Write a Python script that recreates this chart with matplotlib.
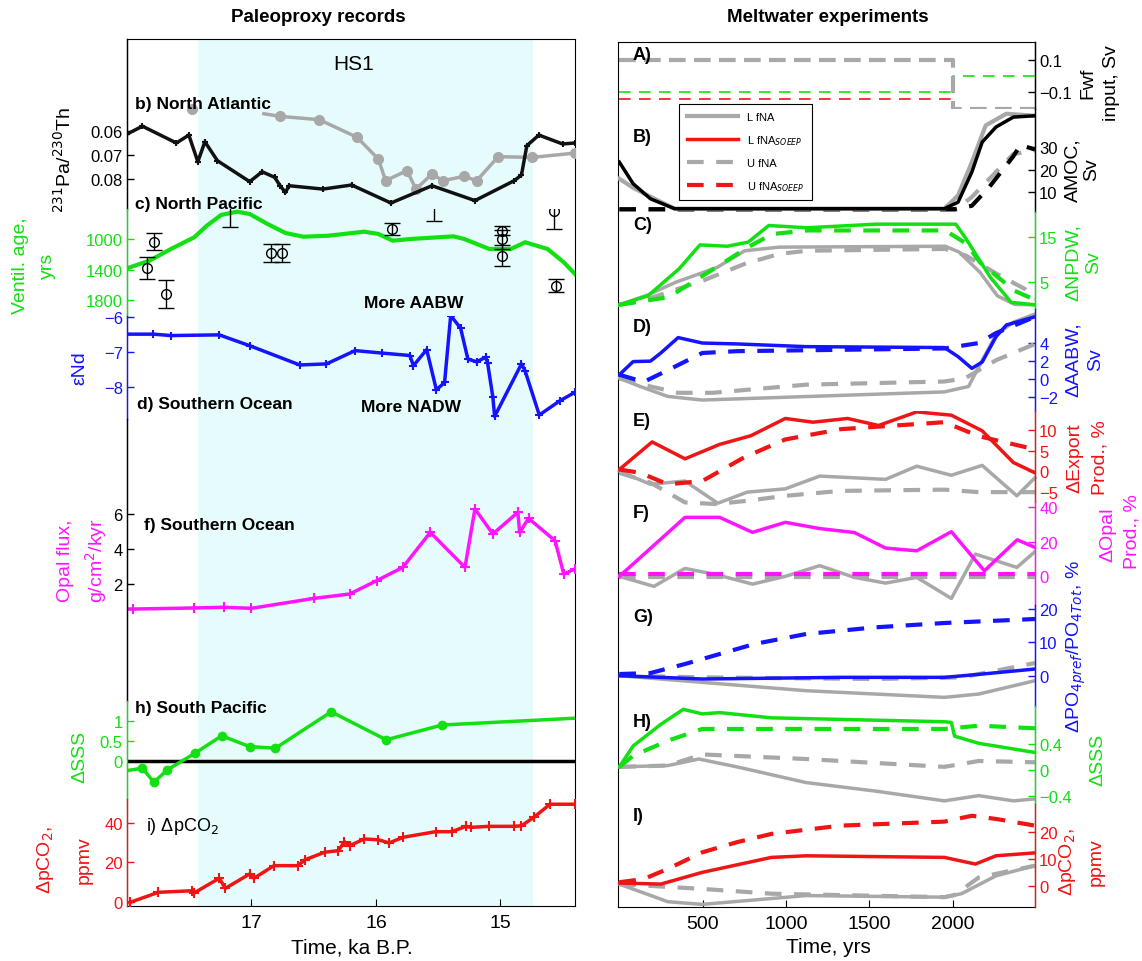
import matplotlib
matplotlib.use('Agg')
import matplotlib.pyplot as plt
from matplotlib.lines import Line2D

plt.rcParams['font.family'] = ['Liberation Sans', 'DejaVu Sans']

# ---------------- paleoproxy data (time in ka B.P.) ----------------
# b) North Atlantic 231Pa/230Th
t_pa_black = [18.0, 17.876, 17.603, 17.503, 17.431, 17.374, 17.273, 17.014, 16.914, 16.813, 16.770,
              16.727, 16.698, 16.425, 16.195, 15.879, 15.549, 15.204, 14.888, 14.830, 14.787, 14.69,
              14.50, 14.40]
pa_black = [0.0613, 0.058, 0.065, 0.0617, 0.0728, 0.0645, 0.0724, 0.0811, 0.077, 0.0793, 0.0828,
            0.0856, 0.0828, 0.0842, 0.0825, 0.090, 0.0828, 0.089, 0.0807, 0.0783, 0.0661, 0.0617,
            0.0654, 0.065]
# gap (nan) where the record is hidden behind the panel title
t_pa_gray = [17.474, float('nan'), 16.90, 16.770, 16.454, 16.152, 15.980, 15.922, 15.750, 15.678,
             15.549, 15.463, 15.290, 15.190, 15.017, 14.744, 14.40]
pa_gray = [0.0508, float('nan'), 0.0528, 0.0539, 0.0553, 0.0626, 0.0717, 0.0807, 0.0765, 0.0842,
           0.0779, 0.0807, 0.0789, 0.0807, 0.0707, 0.071, 0.0692]
pa_gray_marks = [0, 3, 4, 5, 6, 7, 8, 9, 10, 11, 12, 13, 14, 15, 16]

# c) North Pacific ventilation age
t_vent = [18.0, 17.819, 17.647, 17.460, 17.359, 17.244, 17.115, 17.014, 16.871, 16.727, 16.583,
          16.382, 16.095, 15.980, 15.865, 15.721, 15.376, 15.290, 15.089, 14.917, 14.80, 14.62,
          14.49, 14.40]
vent = [1384, 1284, 1131, 978, 826, 685, 642, 672, 803, 921, 970, 957, 904, 934, 1022, 1000, 965,
        1000, 1131, 1131, 1043, 1131, 1306, 1459]
t_vent_pts = [17.784, 17.842, 17.684, 17.172, 16.842, 16.756, 15.874, 15.534, 14.99, 14.99, 14.99,
              14.57, 14.55]
vent_pts = [1035, 1384, 1721, 470, 1184, 1184, 869, 400, 891, 1004, 1219, 629, 1612]
vent_err = [115, 147, 180, 377, 120, 120, 82, 360, 55, 125, 135, 240, 88]

# d) Southern Ocean eNd
t_nd = [18.0, 17.79, 17.647, 17.259, 17.014, 16.612, 16.397, 16.167, 15.951, 15.727, 15.698, 15.592,
        15.514, 15.448, 15.399, 15.319, 15.261, 15.190, 15.118, 15.103, 15.060, 15.046, 14.830,
        14.802, 14.687, 14.520, 14.40]
nd = [-6.49, -6.49, -6.53, -6.51, -6.82, -7.37, -7.34, -6.96, -7.03, -7.10, -7.39, -6.93, -8.08,
      -7.87, -5.96, -6.32, -7.20, -7.28, -7.15, -7.30, -8.29, -8.84, -7.34, -7.53, -8.80, -8.39, -8.15]

# f) Southern Ocean opal flux
t_opal = [18.0, 17.948, 17.460, 17.224, 17.0, 16.497, 16.210, 15.994, 15.784, 15.563, 15.284, 15.204,
          15.060, 14.859, 14.845, 14.773, 14.56, 14.49, 14.40]
opal = [0.57, 0.57, 0.63, 0.67, 0.61, 1.18, 1.43, 2.19, 2.95, 4.95, 2.95, 6.29, 4.86, 6.10, 4.95,
        5.75, 4.47, 2.57, 2.86]

# h) South Pacific dSSS
t_sss = [18.0, 17.876, 17.784, 17.675, 17.451, 17.239, 17.014, 16.807, 16.359, 15.917, 15.468, 14.40]
sss = [-0.24, -0.18, -0.53, -0.22, 0.20, 0.63, 0.36, 0.32, 1.23, 0.53, 0.90, 1.07]

# i) dpCO2
t_co2 = [17.977, 17.747, 17.474, 17.460, 17.259, 17.210, 17.014, 16.98, 16.819, 16.626, 16.569,
         16.411, 16.302, 16.253, 16.210, 16.095, 15.980, 15.894, 15.779, 15.520, 15.391, 15.276,
         15.239, 15.089, 14.888, 14.830, 14.730, 14.601, 14.40]
co2 = [-0.2, 4.9, 5.7, 4.6, 12, 6.9, 14.2, 12, 18.4, 18.4, 21.4, 25.2, 26, 30.5, 28.5, 31.9, 31.5,
       29.9, 32.8, 35.6, 35.6, 38.3, 37.8, 38.3, 38.3, 38.6, 42.9, 49.5, 49.5]

hs1 = [17.43, 14.74]

# ---------------- meltwater experiments (time in years) ----------------
tA = [0, 2000, 2000, 2495]
fwf_gray = [0.1, 0.1, -0.2, -0.2]
fwf_green = [-0.1, -0.1, 0.0, 0.0]
tA_red = [0, 2000, 2000]
fwf_red = [-0.14, -0.14, -0.08]

tB_ks = [0, 83, 187, 332, 1951, 2033, 2116, 2178, 2261, 2365, 2495]
amoc_ks = [23.4, 13.8, 7.1, 2.7, 2.7, 5.6, 19, 32.3, 39, 43.4, 44]
tB_gs = [0, 83, 187, 332, 1951, 2033, 2116, 2199, 2323, 2495]
amoc_gs = [16, 12, 8, 2.7, 2.7, 8.6, 23.4, 39.7, 44.9, 44]
tB_gd = [0, 2012, 2116, 2261, 2365, 2495]
amoc_gd = [1.9, 1.9, 7.9, 19, 27, 28.5]
tB_kd = [0, 2012, 2116, 2220, 2365, 2407, 2495]
amoc_kd = [2.5, 2.5, 4, 12.3, 26, 31, 29]

tC_cs = [0, 172, 359, 484, 648, 773, 897, 1127, 1542, 2020, 2082, 2227, 2352, 2495]
npdw_cs = [0, 2.0, 8, 13.3, 13.0, 13.9, 17.6, 17.1, 17.9, 17.9, 14.6, 6.1, 0.55, 0]
tC_cd = [0, 296, 567, 773, 917, 1127, 1956, 2082, 2165, 2373, 2495]
npdw_cd = [0, 1.7, 8, 12.8, 15.7, 16.5, 16.5, 13.6, 9.4, 3.1, 1.1]
tC_gs = [0, 172, 338, 587, 753, 960, 1956, 2040, 2165, 2269, 2373, 2495]
npdw_gs = [0, 2.2, 5, 8.3, 12, 12.8, 13, 11.7, 7.2, 2, 0.1, 0]
tC_gd = [0, 172, 504, 753, 960, 1127, 1956, 2082, 2269, 2435, 2495]
npdw_gd = [0, 1.3, 5.4, 9.1, 11.3, 12, 12.4, 10.9, 6.8, 3.5, 1.3]

tD_cs = [0, 83, 187, 249, 353, 498, 706, 1121, 1951, 2033, 2116, 2178, 2261, 2324, 2495]
aabw_cs = [0.5, 1.95, 2.0, 2.9, 4.6, 4.0, 3.9, 3.6, 3.5, 2.5, 1.2, 1.9, 4.7, 6.0, 6.9]
tD_cd = [0, 146, 291, 498, 706, 1951, 2158, 2261, 2495]
aabw_cd = [0.5, -0.3, 1.0, 2.9, 3.1, 3.4, 4.0, 5.1, 6.9]
tD_gs = [0, 125, 291, 498, 1951, 2096, 2158, 2261, 2365, 2495]
aabw_gs = [0.1, -0.8, -1.9, -2.3, -1.4, -0.8, 1.4, 4.9, 6.3, 7.2]
tD_gd = [0, 187, 353, 560, 1121, 1951, 2075, 2261, 2495]
aabw_gd = [0.1, -0.8, -1.5, -1.5, -0.6, -0.25, 0.1, 2.1, 3.9]

tE_cs = [0, 197, 394, 602, 789, 996, 1162, 1370, 1556, 1785, 1993, 2178, 2365, 2495]
exp_cs = [0.4, 7.1, 3.0, 6.5, 8.6, 12.8, 11.9, 12.8, 11.1, 14.4, 13.6, 9.8, 2.1, -0.4]
tE_cd = [0, 125, 291, 498, 747, 996, 1328, 1951, 2158, 2495]
exp_cd = [0.4, -0.4, -3.2, -2.4, 3.3, 7.7, 10.2, 11.9, 8.5, 5.3]
tE_gs = [0, 187, 394, 591, 768, 996, 1203, 1598, 1785, 1993, 2178, 2386, 2495]
exp_gs = [0, -3.2, -2.4, -7.8, -5.1, -4.3, -1.2, -2.0, 1.2, -1.0, 1.4, -6.0, -1.6]
tE_gd = [0, 187, 394, 581, 768, 996, 1328, 1951, 2158, 2495]
exp_gd = [-0.4, -2.8, -7.6, -8.0, -7.2, -6.0, -4.8, -4.5, -5.1, -5.1]

tF_cs = [0, 394, 602, 799, 996, 1203, 1411, 1598, 1785, 1993, 2191, 2388, 2495]
opal_cs = [0, 34.2, 34.2, 25.5, 31.3, 27.7, 25.4, 16.4, 14.8, 25.9, 3.2, 21.2, 16.8]
tF_cd = [0, 2495]
opal_cd = [1.2, 1.2]
tF_gs = [0, 208, 394, 591, 799, 996, 1203, 1411, 1598, 1785, 1993, 2137, 2386, 2495]
opal_gs = [0, -5.8, 4.6, 0.8, -4.5, 0, 6.2, -0.6, -3.9, -0.6, -12.8, 12.9, 5.2, 14.3]
tF_gd = [0, 2495]
opal_gd = [-0.6, -0.6]

tG_cd = [0, 187, 394, 602, 810, 1121, 1536, 1951, 2495]
po4_cd = [0.5, 0.8, 3.5, 6.5, 9.5, 12.5, 14.5, 15.8, 17]
tG_cs = [0, 498, 1328, 1951, 2158, 2495]
po4_cs = [0, -1, -0.5, -0.5, 0.4, 2]
tG_gs = [0, 498, 1121, 1951, 2158, 2495]
po4_gs = [0, -2, -4.5, -6.5, -5.5, -1.5]
tG_gd = [0, 498, 1536, 2054, 2261, 2495]
po4_gd = [0, -0.5, -1, -0.5, 1.5, 3.8]

tH_cs = [0, 83, 249, 384, 498, 602, 913, 1951, 1993, 2012, 2158, 2495]
sss_cs = [0.05, 0.37, 0.7, 0.93, 0.86, 0.88, 0.8, 0.74, 0.73, 0.52, 0.41, 0.27]
tH_cd = [0, 83, 291, 498, 1951, 2158, 2495]
sss_cd = [0.05, 0.22, 0.45, 0.63, 0.63, 0.68, 0.64]
tH_gs = [0, 291, 477, 706, 1121, 1536, 1951, 2158, 2365, 2495]
sss_gs = [0.05, 0.07, 0.17, 0.05, -0.19, -0.32, -0.47, -0.39, -0.47, -0.44]
tH_gd = [0, 291, 498, 1121, 1951, 2158, 2495]
sss_gd = [0.05, 0.07, 0.24, 0.17, 0.05, 0.14, 0.12]

tI_cd = [0, 146, 291, 498, 706, 913, 1328, 1951, 2116, 2261, 2495]
co2_cd = [1.3, 2.5, 6.3, 12.5, 16.3, 19.4, 22.5, 24, 26.2, 25, 22.5]
tI_cs = [0, 249, 498, 913, 1121, 1951, 2137, 2261, 2495]
co2_cs = [1, 0.6, 5, 10.6, 11.2, 10.6, 8.1, 11.2, 12.3]
tI_gs = [0, 291, 498, 1121, 1951, 2054, 2261, 2495]
co2_gs = [0.6, -6, -7, -3.7, -4.3, -3, 3.7, 7.5]
tI_gd = [0, 498, 913, 1951, 2012, 2158, 2495]
co2_gd = [0.6, -1.2, -3, -4.3, -3.5, 3.1, 7.5]

legend_labels = ['L fNA', 'L fNA$_{SOEEP}$', 'U fNA', 'U fNA$_{SOEEP}$']

GREEN = '#12e012'
BLUE = '#1414ff'
RED = '#f01414'
MAG = '#ff14ff'
GRAY = '#a8a8a8'
DASH = (0, (4, 3))

W, H = 1142, 962
fig = plt.figure(figsize=(W / 100, H / 100), dpi=100)


def box(x0, y0, x1, y1):
    return [x0 / W, 1 - y1 / H, (x1 - x0) / W, (y1 - y0) / H]


def ftext(x, y, s, **kw):
    fig.text(x / W, 1 - y / H, s, **kw)


def sub_axes(xpx, y0, y1, xlim, ylim, color, side, ticks, labels, tick_color=None):
    ax = fig.add_axes(box(xpx[0], y0, xpx[1], y1))
    ax.set_xlim(*xlim)
    ax.set_ylim(*ylim)
    ax.patch.set_visible(False)
    other = 'right' if side == 'left' else 'left'
    for s in ('top', 'bottom', other):
        ax.spines[s].set_visible(False)
    ax.spines[side].set_color(color)
    ax.spines[side].set_linewidth(1.0)
    ax.set_xticks([])
    ax.yaxis.set_ticks_position(side)
    ax.yaxis.set_label_position(side)
    ax.set_yticks(ticks)
    ax.set_yticklabels(labels)
    ax.tick_params(axis='y', direction='in', length=5, width=1, colors=tick_color or color,
                   labelsize=12, pad=3)
    return ax


# ================= left: paleoproxy records =================
LX = (127, 575)
LXLIM = (18.0, 14.4)
axL = fig.add_axes(box(LX[0], 40, LX[1], 907))
axL.set_xlim(*LXLIM)
axL.set_ylim(0, 1)
axL.set_yticks([])
axL.set_xticks([17, 16, 15])
axL.tick_params(axis='x', direction='in', length=5, labelsize=14, pad=6)
axL.axvspan(hs1[0], hs1[1], color='#e6fcfc', lw=0, zorder=0)

axb = sub_axes(LX, 40, 210, LXLIM, (0.0925, 0.02167), 'k', 'left', [0.06, 0.07, 0.08],
               ['0.06', '0.07', '0.08'])
axb.plot(t_pa_gray, pa_gray, color=GRAY, lw=2.5, marker='o', ms=7, markevery=pa_gray_marks)
axb.plot(t_pa_black, pa_black, color='#111111', lw=2.5, marker='+', ms=5, mew=1.5)

axc = sub_axes(LX, 210, 317, LXLIM, (2009.8, 606.6), GREEN, 'left', [1000, 1400, 1800],
               ['1000', '1400', '1800'])
axc.plot(t_vent, vent, color=GREEN, lw=3)
axc.errorbar(t_vent_pts, vent_pts, yerr=vent_err, fmt='o', mfc='none', mec='k', ecolor='k',
             ms=7, mew=1, capsize=6, elinewidth=1, capthick=1)

axd = sub_axes(LX, 317, 420, LXLIM, (-8.914, -5.971), BLUE, 'left', [-8, -7, -6],
               ['\u22128', '\u22127', '\u22126'])
axd.plot(t_nd, nd, color=BLUE, lw=2.5, marker='+', ms=6, mew=1.5)

axf = sub_axes(LX, 420, 702, LXLIM, (-4.686, 11.43), 'k', 'left', [2, 4, 6], ['2', '4', '6'])
axf.plot(t_opal, opal, color=MAG, lw=2.5, marker='+', ms=7, mew=1.5)

axh = sub_axes(LX, 702, 800, LXLIM, (-0.95, 1.5), GREEN, 'left', [0, 0.5, 1], ['0', '0.5', '1'])
axh.axhline(0, color='k', lw=2.5)
axh.plot(t_sss, sss, color=GREEN, lw=2.5, marker='o', ms=6, markevery=list(range(1, len(t_sss) - 1)))

axi = sub_axes(LX, 800, 907, LXLIM, (-2.03, 52.15), RED, 'left', [0, 20, 40], ['0', '20', '40'])
axi.plot(t_co2, co2, color=RED, lw=2.5, marker='+', ms=7, mew=1.5)

ftext(318, 17, 'Paleoproxy records', fontsize=13.5, fontweight='bold', ha='center', va='center')
ftext(352, 948, 'Time, ka B.P.', fontsize=15, ha='center', va='center')
ftext(354, 65, 'HS1', fontsize=15, ha='center', va='center')
lab = dict(fontsize=12.5, fontweight='bold', ha='left', va='center')
ftext(135, 104, 'b) North Atlantic', **lab)
ftext(135, 205, 'c) North Pacific', **lab)
ftext(137, 405, 'd) Southern Ocean', **lab)
ftext(144, 526, 'f) Southern Ocean', **lab)
ftext(135, 708, 'h) South Pacific', **lab)
ftext(146, 827, 'i) \u0394pCO$_2$', fontsize=13, ha='left', va='center')
ftext(414, 303, 'More AABW', fontsize=12.5, fontweight='bold', ha='center', va='center')
ftext(411, 408, 'More NADW', fontsize=12.5, fontweight='bold', ha='center', va='center')

yl = dict(fontsize=14, rotation=90, ha='center', va='center')
ftext(64, 160, '$^{231}$Pa/$^{230}$Th', color='k', **yl)
ftext(21, 266, 'Ventil. age,', color=GREEN, **yl)
ftext(47, 266, 'yrs', color=GREEN, **yl)
ftext(80, 368, '\u03b5Nd', color=BLUE, **yl)
ftext(66, 561, 'Opal flux,', color=MAG, **yl)
ftext(96, 561, 'g/cm$^2$/kyr', color=MAG, **yl)
ftext(80, 757, '\u0394SSS', color=GREEN, **yl)
ftext(46, 860, '\u0394pCO$_2$,', color=RED, **yl)
ftext(84, 860, 'ppmv', color=RED, **yl)

# ================= right: meltwater experiments =================
RX = (618, 1035)
RXLIM = (-8, 2495)
axR = fig.add_axes(box(RX[0], 43, RX[1], 908))
axR.set_xlim(*RXLIM)
axR.set_ylim(0, 1)
axR.set_yticks([])
axR.set_xticks([500, 1000, 1500, 2000])
axR.tick_params(axis='x', direction='in', length=5, labelsize=14, pad=6)

axA = sub_axes(RX, 43, 110, RXLIM, (-0.2025, 0.2086), 'k', 'right', [-0.1, 0.1],
               ['\u22120.1', '0.1'])
axA.plot(tA_red, fwf_red, color=RED, lw=1.2, ls=(0, (7, 5)))
axA.plot(tA, fwf_green, color=GREEN, lw=1.2, ls=(0, (7, 5)))
axA.plot(tA, fwf_gray, color=GRAY, lw=3, ls=(0, (4, 2)))

axB = sub_axes(RX, 110, 213, RXLIM, (1.24, 47.0), 'k', 'right', [10, 20, 30], ['10', '20', '30'])
axB.plot(tB_gd, amoc_gd, color=GRAY, lw=3, ls=DASH)
axB.plot(tB_kd, amoc_kd, color='k', lw=3, ls=DASH)
axB.plot(tB_gs, amoc_gs, color=GRAY, lw=3)
axB.plot(tB_ks, amoc_ks, color='k', lw=2.5)

axC = sub_axes(RX, 213, 310, RXLIM, (-0.93, 20.6), GREEN, 'right', [5, 15], ['5', '15'])
axC.plot(tC_gd, npdw_gd, color=GRAY, lw=3, ls=DASH)
axC.plot(tC_gs, npdw_gs, color=GRAY, lw=2.5)
axC.plot(tC_cd, npdw_cd, color=GREEN, lw=3, ls=DASH)
axC.plot(tC_cs, npdw_cs, color=GREEN, lw=2.5)

axD = sub_axes(RX, 310, 412, RXLIM, (-3.51, 7.76), BLUE, 'right', [-2, 0, 2, 4],
               ['\u22122', '0', '2', '4'])
axD.plot(tD_gd, aabw_gd, color=GRAY, lw=3, ls=DASH)
axD.plot(tD_gs, aabw_gs, color=GRAY, lw=2.5)
axD.plot(tD_cd, aabw_cd, color=BLUE, lw=3, ls=DASH)
axD.plot(tD_cs, aabw_cs, color=BLUE, lw=2.5)

axE = sub_axes(RX, 412, 503, RXLIM, (-7.5, 14.62), RED, 'right', [-5, 0, 5, 10],
               ['\u22125', '0', '5', '10'])
axE.plot(tE_gd, exp_gd, color=GRAY, lw=3, ls=DASH, clip_on=False)
axE.plot(tE_gs, exp_gs, color=GRAY, lw=2.5, clip_on=False)
axE.plot(tE_cd, exp_cd, color=RED, lw=3, ls=DASH)
axE.plot(tE_cs, exp_cs, color=RED, lw=2.5)

axF = sub_axes(RX, 503, 606, RXLIM, (-16.6, 43.1), MAG, 'right', [0, 20, 40], ['0', '20', '40'])
axF.plot(tF_gd, opal_gd, color=GRAY, lw=3, ls=DASH)
axF.plot(tF_gs, opal_gs, color=GRAY, lw=2.5)
axF.plot(tF_cd, opal_cd, color=MAG, lw=3, ls=DASH)
axF.plot(tF_cs, opal_cs, color=MAG, lw=2.5)

axG = sub_axes(RX, 606, 707, RXLIM, (-9.09, 21.2), BLUE, 'right', [0, 10, 20], ['0', '10', '20'])
axG.plot(tG_gd, po4_gd, color=GRAY, lw=3, ls=DASH)
axG.plot(tG_gs, po4_gs, color=GRAY, lw=2.5)
axG.plot(tG_cd, po4_cd, color=BLUE, lw=3, ls=DASH)
axG.plot(tG_cs, po4_cs, color=BLUE, lw=2.5)

axH = sub_axes(RX, 707, 805, RXLIM, (-0.518, 0.981), GREEN, 'right', [-0.4, 0, 0.4],
               ['\u22120.4', '0', '0.4'])
axH.plot(tH_gd, sss_gd, color=GRAY, lw=3, ls=DASH)
axH.plot(tH_gs, sss_gs, color=GRAY, lw=2.5)
axH.plot(tH_cd, sss_cd, color=GREEN, lw=3, ls=DASH)
axH.plot(tH_cs, sss_cs, color=GREEN, lw=2.5)

axI = sub_axes(RX, 805, 908, RXLIM, (-7.98, 30.6), RED, 'right', [0, 10, 20], ['0', '10', '20'])
axI.plot(tI_gd, co2_gd, color=GRAY, lw=3, ls=DASH)
axI.plot(tI_gs, co2_gs, color=GRAY, lw=2.5)
axI.plot(tI_cd, co2_cd, color=RED, lw=3, ls=DASH)
axI.plot(tI_cs, co2_cs, color=RED, lw=2.5)

ftext(828, 17, 'Meltwater experiments', fontsize=13.5, fontweight='bold', ha='center', va='center')
ftext(828, 948, 'Time, yrs', fontsize=15, ha='center', va='center')
rl = dict(fontsize=13, fontweight='bold', ha='left', va='center')
for letter, y in zip('ABCDEFGHI', [55, 138, 225, 328, 422, 513, 617, 723, 817]):
    ftext(633, y, letter + ')', **rl)

ftext(1088, 83, 'Fwf', color='k', **yl)
ftext(1112, 83, 'input, Sv', color='k', **yl)
ftext(1073, 170, 'AMOC,', color='k', **yl)
ftext(1092, 170, 'Sv', color='k', **yl)
ftext(1073, 263, '\u0394NPDW,', color=GREEN, **yl)
ftext(1094, 263, 'Sv', color=GREEN, **yl)
ftext(1073, 360, '\u0394AABW,', color=BLUE, **yl)
ftext(1096, 360, 'Sv', color=BLUE, **yl)
ftext(1075, 458, '\u0394Export', color=RED, **yl)
ftext(1100, 458, 'Prod., %', color=RED, **yl)
ftext(1108, 535, '\u0394Opal', color=MAG, **yl)
ftext(1132, 532, 'Prod., %', color=MAG, **yl)
ftext(1076, 647, '\u0394PO$_{4pref}$/PO$_{4Tot}$, %', color=BLUE, **yl)
ftext(1098, 760, '\u0394SSS', color=GREEN, **yl)
ftext(1067, 862, '\u0394pCO$_2$,', color=RED, **yl)
ftext(1096, 862, 'ppmv', color=RED, **yl)

handles = [Line2D([], [], color=GRAY, lw=3),
           Line2D([], [], color=RED, lw=2.5),
           Line2D([], [], color=GRAY, lw=3, ls=DASH),
           Line2D([], [], color=RED, lw=3, ls=DASH)]
leg = fig.legend(handles, legend_labels, loc='upper left', bbox_to_anchor=(679 / W, 1 - 105 / H),
                 fontsize=8, handlelength=4.6, labelspacing=1.0, borderpad=0.7, borderaxespad=0,
                 frameon=True, fancybox=False, edgecolor='k', framealpha=1)
leg.get_frame().set_linewidth(0.8)

fig.savefig('out.png', dpi=100)
